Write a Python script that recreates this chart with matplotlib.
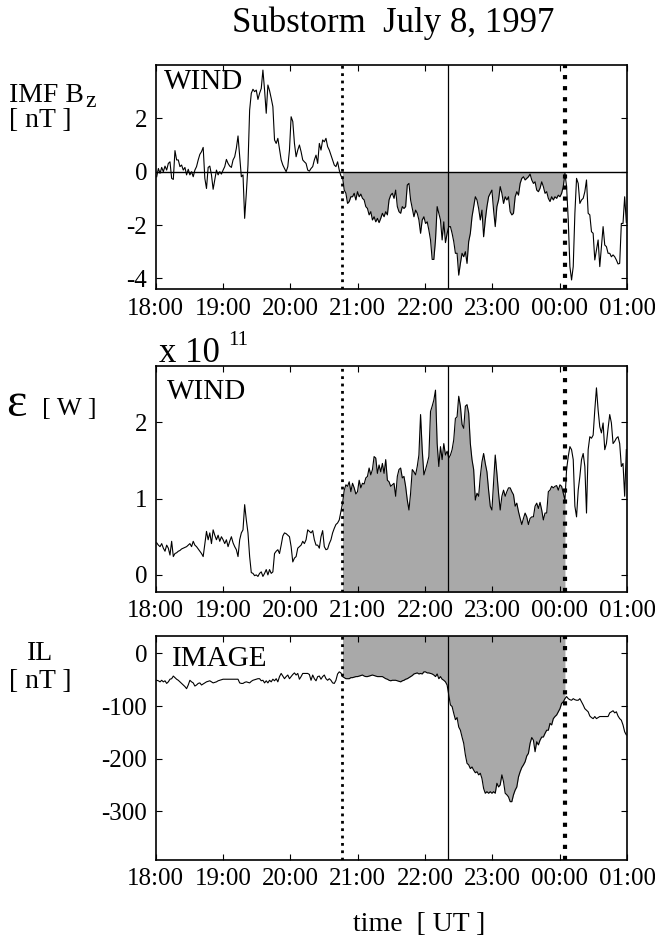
import numpy as np
import matplotlib
matplotlib.use('Agg')
import matplotlib.pyplot as plt

plt.rcParams['font.family'] = ['Liberation Serif', 'DejaVu Serif']
plt.rcParams['axes.unicode_minus'] = False

# time axis: hours after 18:00 UT, ~1.5 min samples
hour_labels = ['18:00', '19:00', '20:00', '21:00', '22:00', '23:00', '00:00', '01:00']
t = np.linspace(0.015, 6.99, 284)

# growth phase start, onset, end (hours after 18:00)
t_start = 2.761
t_onset = 4.335
t_end = 6.084

# IMF Bz [nT], WIND
bz = [
    -0.19, 0.12, -0.06, 0.16, 0.0, 0.21, 0.06, 0.31, 0.37, -0.25,
    -0.29, 0.79, 0.44, 0.44, 0.19, 0.25, 0.06, 0.16, -0.12, 0.09,
    -0.12, 0.0, -0.19, 0.06, 0.19, 0.44, 0.65, 0.75, 0.91, -0.25,
    -0.63, 0.16, 0.21, -0.12, -0.66, -0.31, 0.06, -0.12, 0.0, -0.09,
    0.06, 0.19, 0.46, 0.31, 0.21, 0.16, 0.44, 0.56, 0.88, 1.34,
    0.56, -0.19, -0.12, -1.75, -0.81, 0.25, 2.31, 2.94, 3.09, 3.0,
    3.06, 2.71, 2.94, 3.12, 3.81, 3.06, 2.19, 3.25, 3.04, 2.75,
    2.44, 1.19, 1.06, 1.25, 0.84, 0.44, 0.25, 0.12, 0.0, 0.19,
    0.81, 2.06, 1.88, 1.06, 0.56, 0.81, 1.0, 0.75, 0.44, 0.37,
    0.31, 0.06, 0.02, 0.12, 0.19, 0.44, 0.62, 0.31, 1.06, 0.81,
    1.19, 1.12, 1.25, 0.94, 0.81, 0.62, 0.44, 0.25, 0.19, 0.37,
    0.06, -0.16, -0.21, -0.69, -0.81, -1.19, -1.12, -0.94, -0.94, -0.81,
    -1.06, -0.75, -0.94, -0.84, -1.0, -1.06, -1.31, -1.38, -1.62, -1.5,
    -1.81, -1.69, -1.88, -1.75, -1.91, -1.75, -1.56, -1.69, -1.5, -1.62,
    -1.06, -0.88, -0.81, -1.0, -0.69, -1.31, -1.5, -1.56, -1.31, -1.38,
    -1.31, -0.5, -0.44, -1.06, -1.38, -1.69, -1.44, -1.56, -1.81, -2.31,
    -1.81, -1.69, -1.94, -1.88, -2.19, -2.56, -3.29, -3.29, -2.56, -1.31,
    -1.56, -1.81, -2.56, -1.88, -2.66, -2.31, -2.06, -2.06, -2.31, -2.62,
    -3.06, -3.06, -3.88, -3.44, -3.06, -3.19, -3.0, -3.44, -2.62, -2.31,
    -1.69, -1.31, -0.94, -1.06, -1.38, -1.81, -1.44, -2.44, -1.81, -1.31,
    -0.94, -0.81, -0.69, -1.44, -2.06, -1.31, -1.06, -0.56, -0.81, -1.19,
    -0.94, -1.06, -0.94, -1.5, -1.62, -1.56, -0.94, -0.75, -0.88, -0.44,
    -0.25, -0.19, -0.31, -0.25, -0.19, -0.09, -0.31, -0.44, -0.38, -0.69,
    -0.75, -0.62, -0.38, -0.56, -0.81, -0.75, -1.0, -1.12, -0.94, -1.06,
    -0.94, -1.0, -0.88, -0.94, -0.81, -0.56, -0.06, -0.56, -1.81, -3.56,
    -4.06, -3.56, -1.56, -0.25, -0.44, -1.19, -1.06, -1.0, -0.75, -0.31,
    -1.56, -1.62, -2.25, -2.31, -3.31, -2.94, -2.56, -3.56, -2.81, -2.06,
    -2.75, -2.81, -3.06, -3.06, -3.19, -3.12, -3.19, -3.31, -3.46, -3.44,
    -1.94, -1.94, -0.94, -1.9,
]

# epsilon parameter [1e11 W], WIND
eps = [
    0.42, 0.39, 0.37, 0.41, 0.35, 0.31, 0.39, 0.35, 0.26, 0.44,
    0.24, 0.28, 0.29, 0.31, 0.32, 0.34, 0.35, 0.36, 0.37, 0.39,
    0.41, 0.37, 0.44, 0.39, 0.37, 0.34, 0.31, 0.28, 0.24, 0.41,
    0.57, 0.46, 0.55, 0.41, 0.59, 0.52, 0.46, 0.52, 0.44, 0.50,
    0.46, 0.41, 0.46, 0.37, 0.44, 0.50, 0.42, 0.37, 0.33, 0.24,
    0.46, 0.55, 0.59, 0.92, 0.72, 0.55, 0.24, 0.03, 0.02, -0.01,
    0.0, -0.02, 0.02, 0.04, -0.02, 0.02, 0.07, 0.0, 0.07, 0.02,
    0.04, 0.28, 0.31, 0.33, 0.28, 0.39, 0.51, 0.55, 0.54, 0.52,
    0.50, 0.37, 0.17, 0.22, 0.24, 0.35, 0.37, 0.39, 0.44, 0.41,
    0.46, 0.59, 0.57, 0.55, 0.58, 0.46, 0.39, 0.39, 0.35, 0.50,
    0.58, 0.37, 0.33, 0.34, 0.41, 0.46, 0.55, 0.61, 0.66, 0.68,
    0.72, 0.83, 0.94, 1.11, 1.18, 1.16, 1.22, 1.09, 1.20, 1.14,
    1.06, 1.09, 1.24, 1.14, 1.20, 1.19, 1.27, 1.29, 1.40, 1.31,
    1.38, 1.55, 1.53, 1.33, 1.44, 1.35, 1.46, 1.33, 1.51, 1.24,
    1.22, 1.16, 1.18, 1.20, 1.03, 1.29, 1.38, 1.40, 1.27, 1.29,
    1.16, 0.98, 0.85, 1.07, 1.38, 1.35, 1.31, 1.42, 1.57, 2.10,
    1.64, 1.31, 1.38, 1.46, 1.55, 2.14, 2.21, 2.29, 2.42, 1.72,
    1.42, 1.68, 1.51, 1.72, 1.57, 1.62, 1.53, 1.57, 1.64, 1.77,
    2.05, 2.07, 2.34, 2.21, 1.97, 1.92, 2.21, 2.23, 2.12, 1.72,
    1.51, 1.38, 0.98, 1.07, 1.03, 1.29, 1.48, 1.59, 1.46, 1.35,
    1.11, 0.90, 0.85, 1.20, 1.57, 1.33, 1.07, 0.85, 1.03, 1.11,
    1.03, 1.09, 1.14, 1.14, 1.09, 1.05, 0.90, 0.94, 0.83, 0.74,
    0.66, 0.74, 0.81, 0.76, 0.66, 0.74, 0.76, 0.76, 0.90, 0.94,
    0.87, 0.95, 0.85, 0.72, 0.81, 0.81, 1.09, 1.11, 1.16, 1.14,
    1.16, 1.17, 1.11, 1.18, 1.16, 1.07, 0.98, 1.38, 1.55, 1.68,
    1.64, 1.51, 0.90, 0.76, 1.11, 1.29, 1.51, 1.59, 1.42, 0.81,
    1.64, 1.81, 1.79, 1.83, 2.16, 2.45, 2.16, 1.94, 1.86, 1.99,
    1.64, 1.72, 1.92, 2.10, 1.99, 1.72, 1.75, 1.79, 1.81, 1.72,
    1.42, 1.46, 1.03, 1.64,
]

# IL index [nT], IMAGE
il = [
    -51, -52, -54, -51, -54, -52, -57, -54, -49, -48,
    -43, -46, -49, -51, -54, -57, -60, -63, -67, -60,
    -51, -54, -56, -62, -60, -57, -56, -60, -58, -56,
    -54, -53, -52, -54, -56, -55, -54, -52, -51, -50,
    -49, -49, -49, -49, -49, -49, -49, -49, -49, -49,
    -56, -57, -57, -55, -54, -55, -56, -53, -51, -50,
    -49, -48, -48, -52, -51, -56, -52, -56, -51, -54,
    -49, -52, -48, -54, -44, -38, -43, -48, -44, -41,
    -48, -44, -40, -37, -41, -38, -49, -44, -38, -38,
    -38, -38, -40, -51, -41, -48, -52, -44, -43, -49,
    -44, -41, -48, -51, -48, -51, -56, -57, -51, -39,
    -35, -37, -44, -46, -48, -48, -48, -46, -46, -45,
    -44, -44, -43, -42, -41, -43, -44, -44, -43, -42,
    -41, -42, -43, -44, -44, -44, -44, -46, -48, -49,
    -51, -52, -51, -51, -51, -52, -53, -54, -52, -51,
    -49, -48, -46, -44, -42, -39, -38, -37, -39, -38,
    -39, -35, -35, -37, -37, -38, -39, -41, -44, -39,
    -48, -44, -49, -51, -54, -60, -79, -98, -101, -114,
    -126, -122, -140, -146, -159, -171, -193, -209, -212, -219,
    -216, -222, -227, -225, -231, -228, -238, -257, -266, -263,
    -266, -263, -266, -263, -266, -247, -254, -250, -231, -244,
    -266, -269, -273, -282, -282, -269, -260, -254, -235, -225,
    -217, -212, -206, -195, -190, -171, -160, -165, -187, -168,
    -174, -165, -159, -159, -152, -146, -146, -133, -136, -124,
    -120, -117, -111, -105, -95, -92, -86, -82, -86, -88,
    -89, -86, -88, -89, -89, -86, -92, -98, -105, -108,
    -111, -119, -122, -124, -120, -124, -122, -120, -120, -120,
    -120, -120, -120, -113, -111, -109, -113, -111, -119, -124,
    -127, -136, -149, -155,
]

bz = np.array(bz)
eps = np.array(eps)
il = np.array(il)

W, H = 655, 938
GREY = '#a9a9a9'


def px(x, y):
    return x / W, 1 - y / H


def make_axes(top, bottom):
    return fig.add_axes([155.7 / W, 1 - bottom / H, (627 - 155.7) / W, (bottom - top) / H])


def style(ax, yticks, ylim):
    ax.set_xlim(0, 7)
    ax.set_xticks(range(8))
    ax.set_xticklabels(hour_labels)
    ax.set_yticks(yticks)
    ax.set_ylim(*ylim)
    ax.tick_params(direction='in', top=True, right=True, length=4, width=0.8,
                   labelsize=18, pad=6)
    for s in ax.spines.values():
        s.set_linewidth(1.2)


def events(ax):
    ax.axvline(t_start, color='k', ls=':', lw=2.0, zorder=4)
    ax.axvline(t_onset, color='k', ls='-', lw=0.9, zorder=4)
    ax.axvline(t_end, color='k', ls=':', lw=3.0, zorder=4)


fig = plt.figure(figsize=(6.55, 9.38), dpi=100)
phase = (t >= t_start) & (t <= t_end)

# IMF Bz
ax1 = make_axes(65, 289.3)
ax1.fill_between(t, np.minimum(bz, 0), 0, where=phase, color=GREY, lw=0, zorder=1)
ax1.plot(t, bz, color='k', lw=0.8, zorder=3)
ax1.axhline(0, color='k', lw=1.0, zorder=3)
events(ax1)
style(ax1, [-4, -2, 0, 2], (-4.41, 4.0))
ax1.text(0.12, 3.1, 'WIND', fontsize=21)

# epsilon
ax2 = make_axes(365.7, 591.7)
ax2.fill_between(t, eps, -1, where=phase, color=GREY, lw=0, zorder=1)
ax2.plot(t, eps, color='k', lw=0.8, zorder=3)
events(ax2)
style(ax2, [0, 1, 2], (-0.22, 2.74))
ax2.text(0.17, 2.3, 'WIND', fontsize=21)

# IL
ax3 = make_axes(635.6, 860)
ax3.fill_between(t, il, 100, where=phase, color=GREY, lw=0, zorder=1)
ax3.plot(t, il, color='k', lw=0.8, zorder=3)
events(ax3)
style(ax3, [-300, -200, -100, 0], (-393, 34))
ax3.text(0.24, -23, 'IMAGE', fontsize=21)

# labels
fig.text(*px(393, 32), 'Substorm  July 8, 1997', fontsize=25, ha='center', va='baseline')
fig.text(*px(9, 101.7), 'IMF B', fontsize=20, va='baseline')
fig.text(*px(85, 107), 'z', fontsize=17, va='baseline')
fig.text(*px(9, 127), '[ nT ]', fontsize=20, va='baseline')

fig.text(*px(6, 416), '\u03b5', fontsize=35, va='baseline')
fig.text(*px(42, 415), '[ W ]', fontsize=19, va='baseline')
fig.text(*px(159, 361.7), 'x 10', fontsize=25, va='baseline')
fig.text(*px(228, 345), '11', fontsize=15, va='baseline')

fig.text(*px(27, 660), 'IL', fontsize=20, va='baseline')
fig.text(*px(9, 688), '[ nT ]', fontsize=20, va='baseline')

fig.text(*px(419.6, 931), 'time  [ UT ]', fontsize=20, ha='center', va='baseline')

fig.savefig('out.png', dpi=100)
